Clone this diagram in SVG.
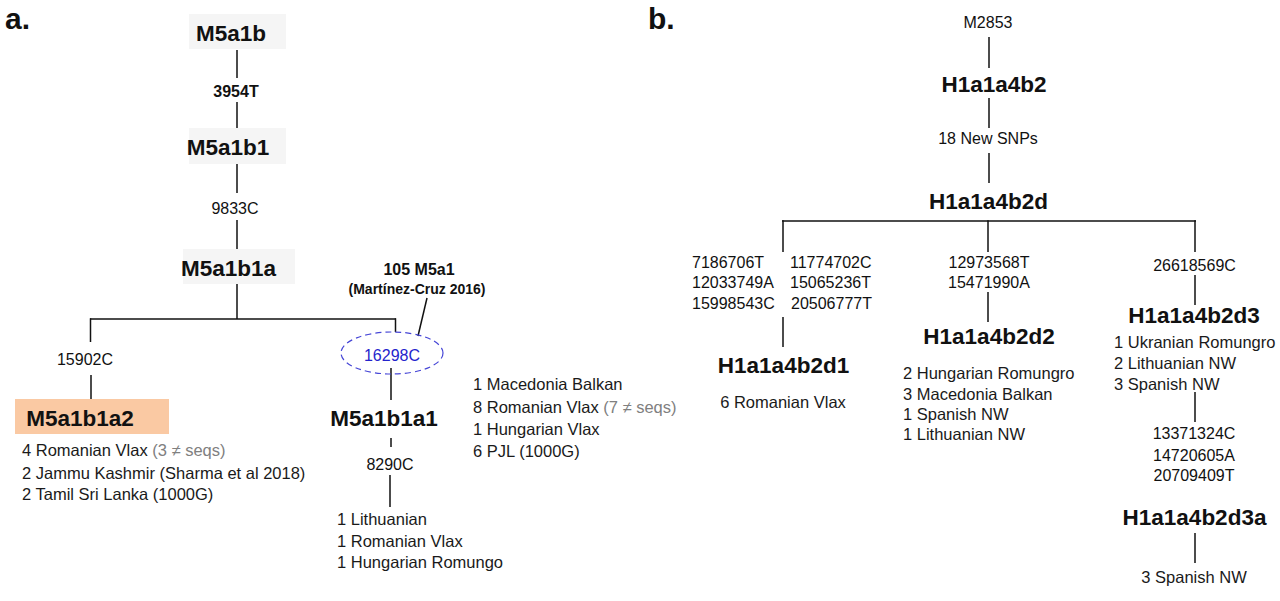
<svg xmlns="http://www.w3.org/2000/svg" width="1280" height="601" viewBox="0 0 1280 601">
<style>
text{font-family:"Liberation Sans",Arial,sans-serif;fill:#111}
.pl{font-size:30px;font-weight:bold}
.hg{font-size:22.5px;font-weight:bold}
.mut{font-size:16px}
.mutb{font-size:16px;font-weight:bold}
.lst{font-size:16.5px;fill:#1a1a1a}
.gr{fill:#808080}
.box{fill:#f5f5f5}
.lines line{stroke:#111;stroke-width:1.5}
</style>
<rect width="1280" height="601" fill="#fff"/>
<text class="pl" x="5" y="29">a.</text>
<text class="pl" x="648" y="29">b.</text>

<g class="lines" id="connectors">
<line x1="237" y1="50" x2="237" y2="78"/>
<line x1="237" y1="102" x2="237" y2="128"/>
<line x1="237" y1="164" x2="237" y2="193"/>
<line x1="237" y1="220" x2="237" y2="249"/>
<line x1="237" y1="284" x2="237" y2="319"/>
<line x1="90" y1="319" x2="396" y2="319"/>
<line x1="90.5" y1="318.3" x2="90.5" y2="342"/>
<line x1="395.5" y1="318.3" x2="395.5" y2="332"/>
<line x1="91" y1="375" x2="91" y2="400"/>
<line x1="427" y1="298" x2="418" y2="336"/>
<line x1="391" y1="368" x2="391" y2="400"/>
<line x1="391" y1="438" x2="391" y2="447"/>
<line x1="390" y1="475" x2="390" y2="507"/>
<line x1="989" y1="37" x2="989" y2="68"/>
<line x1="989" y1="98" x2="989" y2="128"/>
<line x1="989" y1="153" x2="989" y2="183"/>
<line x1="782" y1="221" x2="1196" y2="221"/>
<line x1="783" y1="220.3" x2="783" y2="252"/>
<line x1="988" y1="220.3" x2="988" y2="252"/>
<line x1="1195" y1="220.3" x2="1195" y2="252"/>
<line x1="783" y1="317" x2="783" y2="347"/>
<line x1="988" y1="292" x2="988" y2="322"/>
<line x1="1195" y1="275" x2="1195" y2="305"/>
<line x1="1195" y1="392" x2="1195" y2="422"/>
<line x1="1195" y1="533" x2="1195" y2="563"/>
</g>

<g id="M5a1b">
<rect class="box" x="189" y="14" width="97" height="35"/>
<text class="hg" x="231" y="41" text-anchor="middle">M5a1b</text>
</g>
<text class="mutb" x="236" y="97" text-anchor="middle">3954T</text>
<g id="M5a1b1">
<rect class="box" x="189" y="128" width="97" height="36"/>
<text class="hg" x="228" y="155" text-anchor="middle">M5a1b1</text>
</g>
<text class="mut" x="235" y="214" text-anchor="middle">9833C</text>
<g id="M5a1b1a">
<rect class="box" x="183" y="249" width="112" height="35"/>
<text class="hg" x="228.5" y="276" text-anchor="middle">M5a1b1a</text>
</g>
<text class="mut" x="85" y="365" text-anchor="middle">15902C</text>
<g id="M5a1b1a2">
<rect x="15" y="399" width="154" height="35" fill="#fac9a3"/>
<text class="hg" x="80" y="426" text-anchor="middle">M5a1b1a2</text>
<text class="lst" x="22" y="456">4 Romanian Vlax <tspan class="gr">(3 ≠ seqs)</tspan></text>
<text class="lst" x="22" y="479">2 Jammu Kashmir (Sharma et al 2018)</text>
<text class="lst" x="22" y="500">2 Tamil Sri Lanka (1000G)</text>
</g>
<g id="Martinez">
<text class="mutb" x="419" y="275" text-anchor="middle">105 M5a1</text>
<text x="417" y="294" text-anchor="middle" style="font-size:14px;font-weight:bold">(Martínez-Cruz 2016)</text>
</g>
<g id="m16298C">
<ellipse cx="392" cy="353" rx="51" ry="21" fill="none" stroke="#4646d6" stroke-width="1.2" stroke-dasharray="6,4"/>
<text class="mut" x="392" y="361" text-anchor="middle" style="fill:#2424cc">16298C</text>
</g>
<g id="M5a1b1a1">
<text class="hg" x="384" y="426" text-anchor="middle">M5a1b1a1</text>
<text class="lst" x="473" y="390">1 Macedonia Balkan</text>
<text class="lst" x="473" y="413">8 Romanian Vlax <tspan class="gr">(7 ≠ seqs)</tspan></text>
<text class="lst" x="473" y="435">1 Hungarian Vlax</text>
<text class="lst" x="473" y="457">6 PJL (1000G)</text>
</g>
<text class="mut" x="390" y="470" text-anchor="middle">8290C</text>
<g id="leaf8290C">
<text class="lst" x="337" y="525">1 Lithuanian</text>
<text class="lst" x="337" y="547">1 Romanian Vlax</text>
<text class="lst" x="337" y="568">1 Hungarian Romungo</text>
</g>

<g id="M2853"><text class="mut" x="988" y="28" text-anchor="middle">M2853</text></g>
<g id="H1a1a4b2"><text class="hg" x="994" y="92" text-anchor="middle">H1a1a4b2</text></g>
<text class="mut" x="988" y="144" text-anchor="middle">18 New SNPs</text>
<g id="H1a1a4b2d"><text class="hg" x="988.5" y="209" text-anchor="middle">H1a1a4b2d</text></g>

<g id="snp_d1">
<text class="mut" x="692" y="268">7186706T</text>
<text class="mut" x="692" y="288">12033749A</text>
<text class="mut" x="692" y="309">15998543C</text>
<text class="mut" x="790" y="268">11774702C</text>
<text class="mut" x="790" y="288">15065236T</text>
<text class="mut" x="791" y="309">20506777T</text>
</g>
<g id="H1a1a4b2d1">
<text class="hg" x="783.5" y="373" text-anchor="middle">H1a1a4b2d1</text>
<text class="lst" x="783" y="408" text-anchor="middle">6 Romanian Vlax</text>
</g>
<g id="snp_d2">
<text class="mut" x="989" y="268" text-anchor="middle">12973568T</text>
<text class="mut" x="989" y="288" text-anchor="middle">15471990A</text>
</g>
<g id="H1a1a4b2d2">
<text class="hg" x="989" y="344" text-anchor="middle">H1a1a4b2d2</text>
<text class="lst" x="903" y="379">2 Hungarian Romungro</text>
<text class="lst" x="903" y="400">3 Macedonia Balkan</text>
<text class="lst" x="903" y="420">1 Spanish NW</text>
<text class="lst" x="903" y="440">1 Lithuanian NW</text>
</g>
<text class="mut" x="1194.5" y="271" text-anchor="middle">26618569C</text>
<g id="H1a1a4b2d3">
<text class="hg" x="1194" y="323" text-anchor="middle">H1a1a4b2d3</text>
<text class="lst" x="1114" y="348">1 Ukranian Romungro</text>
<text class="lst" x="1114" y="369">2 Lithuanian NW</text>
<text class="lst" x="1114" y="390">3 Spanish NW</text>
</g>
<g id="snp_d3a">
<text class="mut" x="1194" y="439" text-anchor="middle">13371324C</text>
<text class="mut" x="1194" y="461" text-anchor="middle">14720605A</text>
<text class="mut" x="1194" y="481" text-anchor="middle">20709409T</text>
</g>
<g id="H1a1a4b2d3a">
<text class="hg" x="1194.5" y="525" text-anchor="middle">H1a1a4b2d3a</text>
<text class="lst" x="1194" y="583" text-anchor="middle">3 Spanish NW</text>
</g>
</svg>
